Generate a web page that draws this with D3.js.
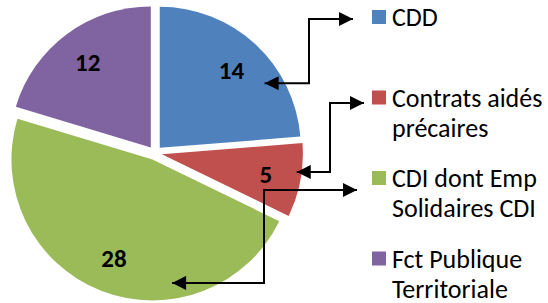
<!DOCTYPE html>
<html>
<head>
    <meta charset="utf-8">
    <script src="https://d3js.org/d3.v7.min.js"></script>
    <style>
        body { margin: 0; background: #fff; }
        svg { display: block; }
        text { font-family: Calibri, Carlito, Lato, sans-serif; }
    </style>
</head>
<body>
    <svg id="pie" width="548" height="303"></svg>

    <script>
        // Data
        const categories = ["CDD", "Contrats aidés précaires", "CDI dont Emp Solidaires CDI", "Fct Publique Territoriale"];
        const legendLines = [["CDD"], ["Contrats aidés", "précaires"], ["CDI dont Emp", "Solidaires CDI"], ["Fct Publique", "Territoriale"]];
        const values = [14, 5, 28, 12];
        const colors = ["#4F81BD", "#C0504D", "#9BBB59", "#8064A2"];

        // Arrow annotations: start point in the slice (angle in degrees, radius), elbow x, tip x/y at the legend
        const arrowAngle = [57.5, 97.6, 172.5];
        const arrowRadius = [130, 143, 131];
        const arrowElbowX = [309, 330, 264];
        const arrowTipX = [353, 364, 357];
        const arrowTipY = [19, 103, 190];

        const svg = d3.select("svg");

        // pie geometry
        const cx = 155, cy = 153, radius = 141, explode = 7;

        const pie = d3.pie().sort(null).value(d => d);
        const arc = d3.arc().innerRadius(0).outerRadius(radius);
        const arcs = pie(values);
        const mid = d => (d.startAngle + d.endAngle) / 2;

        const g = svg.append("g").attr("transform", `translate(${cx},${cy})`);

        g.selectAll("path")
            .data(arcs)
            .join("path")
            .attr("transform", d => {
                const [x, y] = d3.pointRadial(mid(d), explode);
                return `translate(${x},${y})`;
            })
            .attr("d", arc)
            .attr("fill", (d, i) => colors[i]);

        // data labels
        g.selectAll("text.lbl")
            .data(arcs)
            .join("text")
            .attr("class", "lbl")
            .attr("x", d => d3.pointRadial(mid(d), radius * 0.8)[0])
            .attr("y", d => d3.pointRadial(mid(d), radius * 0.8)[1])
            .attr("dy", "0.35em")
            .attr("text-anchor", "middle")
            .attr("font-size", "25px")
            .attr("font-weight", "bold")
            .attr("fill", "#000")
            .text(d => d.data);

        // legend
        const legendX = 372, legendTop = 26, legendStep = 80.5, lineGap = 30;
        const legend = svg.append("g")
            .selectAll("g")
            .data(categories)
            .join("g")
            .attr("transform", (d, i) => `translate(${legendX},${legendTop + i * legendStep})`);

        legend.append("rect")
            .attr("x", 0)
            .attr("y", -16)
            .attr("width", 14)
            .attr("height", 14)
            .attr("fill", (d, i) => colors[i]);

        legend.append("text")
            .attr("font-size", "26px")
            .attr("fill", "#000")
            .selectAll("tspan")
            .data((d, i) => legendLines[i])
            .join("tspan")
            .attr("x", 20)
            .attr("y", (d, j) => j * lineGap)
            .text(d => d);

        // arrow markers
        const defs = svg.append("defs");
        defs.append("marker")
            .attr("id", "head")
            .attr("viewBox", "0 0 10 10")
            .attr("refX", 10)
            .attr("refY", 5)
            .attr("markerWidth", 7.5)
            .attr("markerHeight", 7)
            .attr("orient", "auto-start-reverse")
            .append("path")
            .attr("d", "M0,0 L10,5 L0,10 Z")
            .attr("fill", "#000");

        svg.append("g")
            .selectAll("path")
            .data(arrowAngle)
            .join("path")
            .attr("d", (a, i) => {
                const [sx, sy] = d3.pointRadial(a * Math.PI / 180, arrowRadius[i]);
                const x0 = cx + sx, y0 = cy + sy;
                return d3.line()([[x0, y0], [arrowElbowX[i], y0], [arrowElbowX[i], arrowTipY[i]], [arrowTipX[i], arrowTipY[i]]]);
            })
            .attr("fill", "none")
            .attr("stroke", "#000")
            .attr("stroke-width", 2)
            .attr("marker-start", "url(#head)")
            .attr("marker-end", "url(#head)");
    </script>
</body>
</html>
